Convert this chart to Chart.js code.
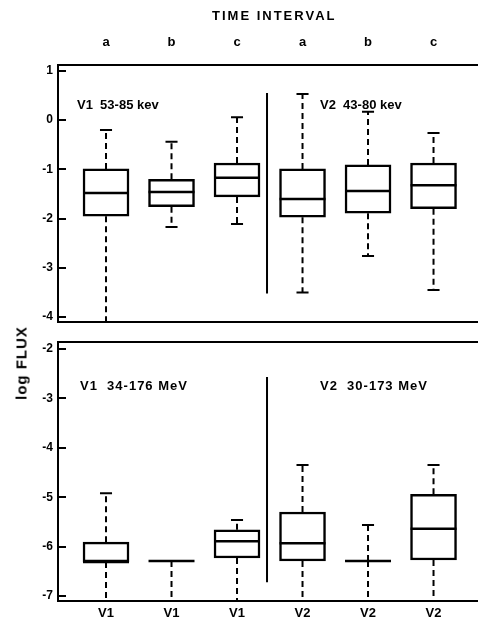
<!DOCTYPE html>
<html>
<head>
<meta charset="utf-8">
<script src="https://cdn.jsdelivr.net/npm/chart.js@4.4.0/dist/chart.umd.min.js"></script>
<style>
  body { margin: 0; background: #fff; }
  #wrap { position: relative; width: 478px; height: 622px; font-family: "Liberation Sans", Arial, sans-serif; font-weight: bold; color: #000; }
  .c { position: absolute; left: 0; width: 478px; }
  .lbl { position: absolute; font-size: 13px; line-height: 13px; white-space: pre; }
  #ylab { position: absolute; left: 21px; top: 363px; font-size: 15px; line-height: 15px; letter-spacing: 1px; white-space: pre;
          transform: translate(-50%, -50%) rotate(-90deg); }
</style>
</head>
<body>
<div id="wrap">
  <div class="c" style="top:0;height:334px"><canvas id="upper"></canvas></div>
  <div class="c" style="top:334px;height:288px"><canvas id="lower"></canvas></div>
  <div class="lbl" style="left:212px;top:9px;letter-spacing:2px">TIME INTERVAL</div>
  <div class="lbl" style="left:77px;top:98px">V1  53-85 kev</div>
  <div class="lbl" style="left:320px;top:98px">V2  43-80 kev</div>
  <div class="lbl" style="left:80px;top:379px;letter-spacing:1px">V1  34-176 MeV</div>
  <div class="lbl" style="left:320px;top:379px;letter-spacing:1px">V2  30-173 MeV</div>
  <div id="ylab">log FLUX</div>
</div>
<script>
// tick labels
const intervalLabels = ["a", "b", "c", "a", "b", "c"];
const craftLabels = ["V1", "V1", "V1", "V2", "V2", "V2"];

// upper panel: keV particles (log flux)
const kevHigh = [-0.2, -0.44, 0.06, 0.53, 0.17, -0.26];
const kevQ3   = [-0.99, -1.2, -0.87, -0.99, -0.91, -0.87];
const kevMed  = [-1.48, -1.46, -1.17, -1.6, -1.44, -1.32];
const kevQ1   = [-1.95, -1.76, -1.56, -1.97, -1.89, -1.8];
const kevLow  = [-4.1, -2.17, -2.11, -3.5, -2.76, -3.45];

// lower panel: MeV particles (log flux)
const mevHigh = [-4.92, null, -5.46, -4.35, -5.56, -4.35];
const mevQ3   = [-5.91, -6.29, -5.66, -5.3, -6.29, -4.94];
const mevMed  = [-6.31, -6.29, -5.89, -5.93, -6.29, -5.64];
const mevQ1   = [-6.31, -6.29, -6.23, -6.29, -6.29, -6.27];
const mevLow  = [-7.1, -7.1, -7.1, -7.1, -7.1, -7.1];

// separator between V1 and V2 groups
const kevDivider = [0.55, -3.52];
const mevDivider = [-2.57, -6.72];

const X_MIN = 0.267, X_MAX = 6.679, DIV_X = 3.458;
const font = { family: "'Liberation Sans', Arial, sans-serif", weight: "bold", size: 13 };

function boxSets(q1, med, q3, lo, hi, yMin, divider) {
    const xs = q1.map((_, i) => i + 1);
    const half = 0.351, cap = 0.092;
    const whisk = [], caps = [], meds = [];
    xs.forEach((x, i) => {
        if (hi[i] !== null) {
            whisk.push({ x: x, y: q3[i] }, { x: x, y: hi[i] }, { x: x, y: null });
            caps.push({ x: x - cap, y: hi[i] }, { x: x + cap, y: hi[i] }, { x: x, y: null });
        }
        whisk.push({ x: x, y: q1[i] }, { x: x, y: lo[i] }, { x: x, y: null });
        if (lo[i] > yMin + 0.01) {
            caps.push({ x: x - cap, y: lo[i] }, { x: x + cap, y: lo[i] }, { x: x, y: null });
        }
        meds.push({ x: x - half, y: med[i] }, { x: x + half, y: med[i] }, { x: x, y: null });
    });
    const line = { type: "line", pointRadius: 0, borderColor: "#000", fill: false, tension: 0, xAxisID: "x", yAxisID: "y", order: 1 };
    return [
        { type: "bar", data: xs.map((x, i) => ({ x: x, y: [q1[i], q3[i]] })), backgroundColor: "#fff",
          borderColor: "#000", borderWidth: 2.5, borderSkipped: false, barThickness: 46, xAxisID: "x", yAxisID: "y", order: 2 },
        Object.assign({}, line, { data: whisk, borderWidth: 2, borderDash: [6, 4] }),
        Object.assign({}, line, { data: caps, borderWidth: 2 }),
        Object.assign({}, line, { data: meds, borderWidth: 2.5 }),
        Object.assign({}, line, { data: [{ x: DIV_X, y: divider[0] }, { x: DIV_X, y: divider[1] }], borderWidth: 2 })
    ];
}

function xScale(position, labels, height, padding) {
    return {
        type: "linear", position: position, min: X_MIN, max: X_MAX, offset: false,
        afterBuildTicks: s => { s.ticks = labels ? labels.map((_, i) => ({ value: i + 1 })) : []; },
        ticks: { display: !!labels, callback: v => labels ? labels[Math.round(v) - 1] : "", font: font, color: "#000",
                 padding: padding, autoSkip: false, maxRotation: 0 },
        grid: { display: false, drawTicks: false },
        border: { display: true, color: "#000", width: 2 },
        afterFit: s => { s.height = height; s.paddingLeft = 0; s.paddingRight = 0; }
    };
}

function yScale(min, max) {
    return {
        min: min, max: max,
        ticks: { stepSize: 1, font: Object.assign({}, font, { size: 12 }), color: "#000", padding: 13 },
        afterBuildTicks: s => {
            const t = [];
            for (let v = Math.ceil(min); v <= Math.floor(max); v++) t.push({ value: v });
            s.ticks = t;
        },
        grid: { display: true, drawOnChartArea: false, drawTicks: true, tickLength: -8, color: "#000", lineWidth: 2 },
        border: { display: true, color: "#000", width: 2 },
        afterFit: s => { s.width = 58; s.paddingTop = 0; s.paddingBottom = 0; }
    };
}

function makeChart(id, datasets, scales) {
    return new Chart(document.getElementById(id), {
        type: "bar",
        data: { datasets: datasets },
        options: {
            responsive: true, maintainAspectRatio: false, animation: false, events: [],
            layout: { padding: 0 },
            plugins: { legend: { display: false }, tooltip: { enabled: false } },
            scales: scales
        }
    });
}

makeChart("upper", boxSets(kevQ1, kevMed, kevQ3, kevLow, kevHigh, -4.1, kevDivider), {
    x: xScale("top", intervalLabels, 65, 15),
    xb: xScale("bottom", null, 12, 0),
    y: yScale(-4.1, 1.12)
});

makeChart("lower", boxSets(mevQ1, mevMed, mevQ3, mevLow, mevHigh, -7.1, mevDivider), {
    x: xScale("bottom", craftLabels, 21, 5),
    xt: xScale("top", null, 8, 0),
    y: yScale(-7.1, -1.86)
});
</script>
</body>
</html>
